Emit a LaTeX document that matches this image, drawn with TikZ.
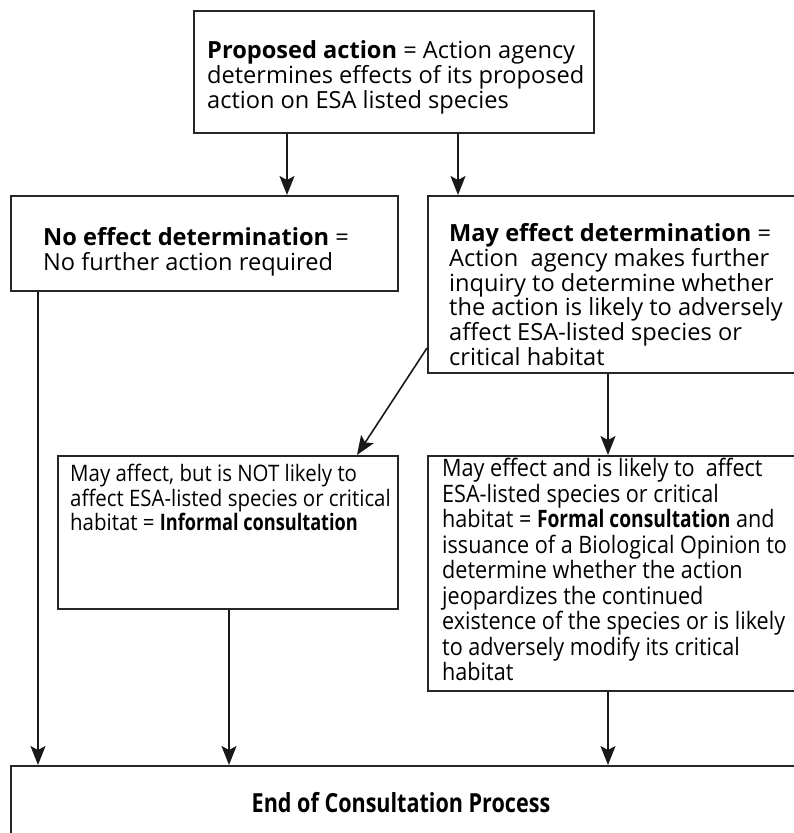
\documentclass[tikz,border=0pt]{standalone}
\usepackage{fontspec}
\setmainfont{Open Sans}
\newfontfamily\lowfont[FakeStretch=0.9]{Open Sans}
\newfontfamily\lowbf[FakeStretch=0.8]{Open Sans}
\newfontfamily\endfont[FakeStretch=0.82]{Open Sans}
\usetikzlibrary{arrows.meta}
\begin{document}
\begin{tikzpicture}[x=1pt,y=-1pt,
  box/.style={draw=black!85, line width=1.6pt, anchor=north west, inner sep=0pt},
  arr/.style={draw=black!90, line width=1.6pt, -{Stealth[length=19pt,width=15pt,inset=4pt]}},
  uptxt/.style={anchor=north west, inner sep=0pt, align=left, font={\fontsize{23.6pt}{25pt}\selectfont}},
  lowtxt/.style={anchor=north west, inner sep=0pt, align=left}]
\path[use as bounding box] (0,0) rectangle (794,833);
\clip (0,0) rectangle (794,833);
% boxes
\node[box, minimum width=400pt, minimum height=122pt] (top) at (193,10) {};
\node[box, minimum width=387pt, minimum height=95pt] (no) at (10,195) {};
\node[box, minimum width=400pt, minimum height=177pt] (may) at (427,195) {};
\node[box, minimum width=340pt, minimum height=153pt] (inf) at (57,455) {};
\node[box, minimum width=400pt, minimum height=235pt] (form) at (427,455) {};
\node[box, minimum width=820pt, minimum height=100pt] (end) at (10,765) {};
% texts
\node[uptxt] (ttop) at (207,40.5) {\textbf{Proposed action} = Action agency\\determines effects of its proposed\\action on ESA listed species};
\node[uptxt] (tno) at (43,227.5) {\textbf{No effect determination} =\\No further action required};
\node[uptxt, font={\fontsize{23.6pt}{23.3pt}\selectfont}] (tmay) at (449,223.5) {\textbf{May effect determination} =\\Action\ \ agency makes further\\inquiry to determine whether\\the action is likely to adversely\\affect ESA-listed species or\\critical habitat};
\node[lowtxt, font={\lowfont\fontsize{22.7pt}{24.5pt}\selectfont}] (tinf) at (70,464) {May affect, but is NOT likely to\\affect ESA-listed species or critical\\habitat = {\lowbf\bfseries Informal consultation}};
\node[lowtxt, font={\lowfont\fontsize{24pt}{25.5pt}\selectfont}] (tform) at (442,458) {May effect and is likely to\ \ affect\\ESA-listed species or critical\\habitat = {\lowbf\bfseries Formal consultation} and\\issuance of a Biological Opinion to\\determine whether the action\\jeopardizes the continued\\existence of the species or is likely\\to adversely modify its critical\\habitat};
\node[font={\endfont\bfseries\fontsize{26.3pt}{27pt}\selectfont}, inner sep=0pt] (tend) at (401,803) {End of Consultation Process};
% connectors
\draw[arr] (top.south -| 287,0) -- (no.north -| 287,0);
\draw[arr] (top.south -| 458,0) -- (may.north -| 458,0);
\draw[arr] (no.south -| 38,0) -- (end.north -| 38,0);
\draw[arr] (may.west |- 0,348) -- (inf.north -| 357,0);
\draw[arr] (may.south -| 608,0) -- (form.north -| 608,0);
\draw[arr] (inf.south -| 229,0) -- (end.north -| 229,0);
\draw[arr] (form.south -| 608,0) -- (end.north -| 608,0);
\end{tikzpicture}
\end{document}
